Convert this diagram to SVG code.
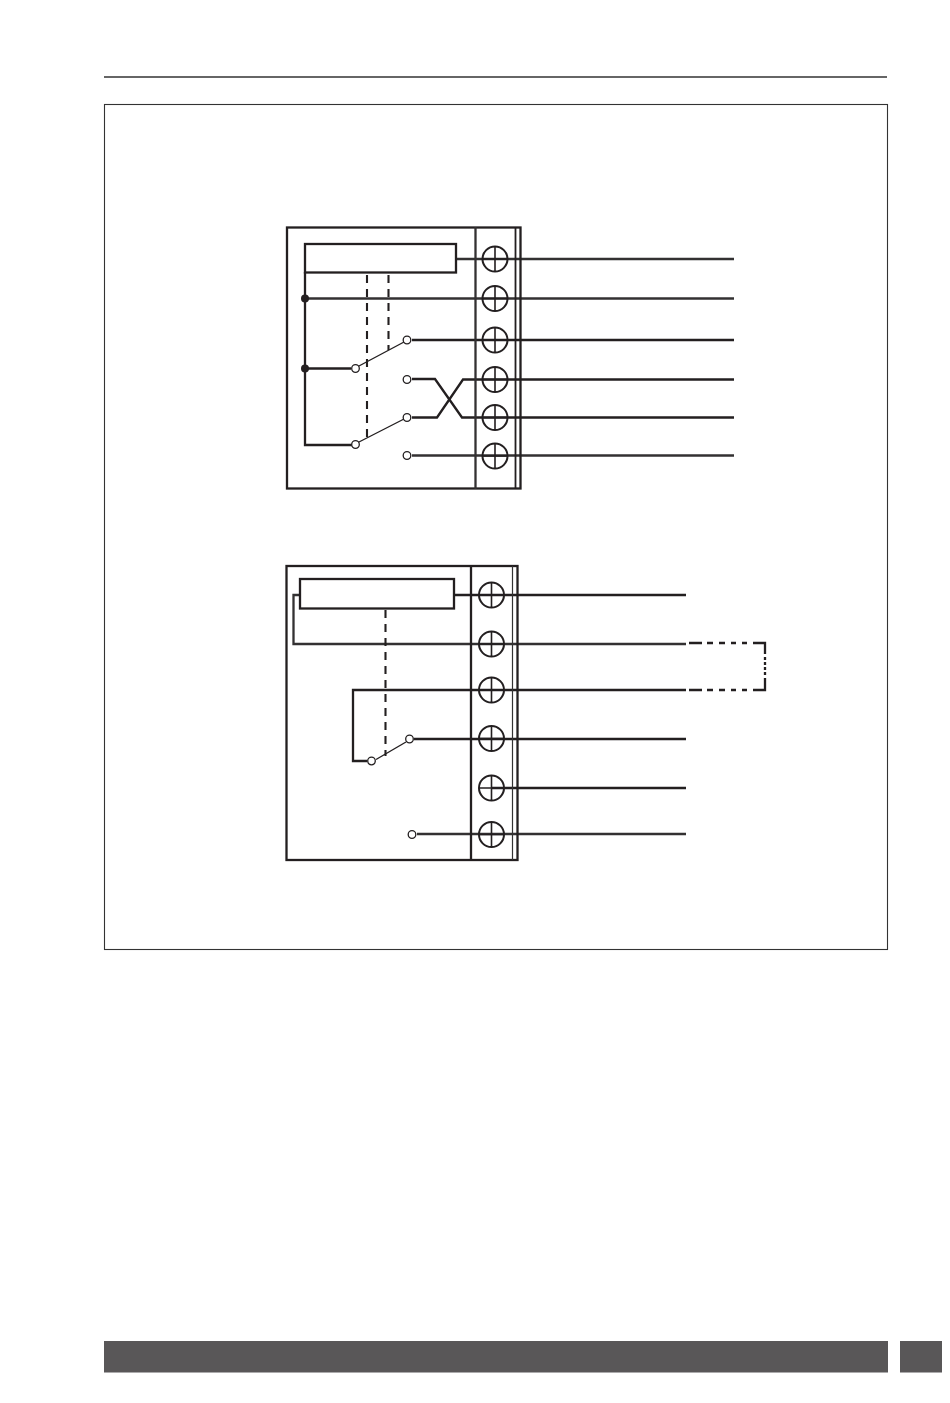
<svg xmlns="http://www.w3.org/2000/svg" width="950" height="1403" viewBox="0 0 950 1403">
<defs>
<style>
.l{fill:none;stroke:#231f20;stroke-width:2.300}
.t{fill:none;stroke:#231f20;stroke-width:1.400}
.g{fill:none;stroke:#333132;stroke-width:2.300}
.d{fill:none;stroke:#231f20;stroke-width:2.100;stroke-dasharray:8 6}
.o{fill:#fff;stroke:#231f20;stroke-width:1.300}
.s{fill:#231f20}
.b{fill:#595758}
</style>
<g id="screw"><circle r="12.500" fill="none" stroke="#231f20" stroke-width="2"/><path d="M-12.500 0H12.500M0-12.500V12.500" fill="none" stroke="#231f20" stroke-width="1.600"/></g>
</defs>
<rect width="950" height="1403" fill="#fff"/>
<g id="page">
<path d="M104 77H887" stroke="#333" stroke-width="1.500" fill="none"/>
<rect x="104.500" y="104.500" width="783" height="845" fill="none" stroke="#333" stroke-width="1.100"/>
<rect class="b" x="104" y="1341" width="784" height="31.500"/>
<rect class="b" x="900" y="1341" width="42" height="31.500"/>
</g>
<g id="connectors">
<path class="g" d="M456 259H734"/>
<path class="g" d="M305 298.500H734"/>
<path class="l" d="M412 340H734"/>
<path class="l" d="M305 272V445H352"/>
<path class="l" d="M305 368.500H351"/>
<path class="l" d="M412 379H435L462 417.500H734"/>
<path class="l" d="M412 417.500H437L463 379.500H734"/>
<path class="g" d="M412 455.500H734"/>
<path class="t" d="M358 366.500L404 342M358 442.500L404 419"/>
<path class="d" d="M367 275V438" stroke-dasharray="7.500 6"/>
<path class="d" d="M388.500 275V350" stroke-dasharray="7 5.500"/>
<path class="l" d="M454 595H686"/>
<path class="g" d="M300 595H293.500V644H686"/>
<path class="l" d="M686 690H353V761H367"/>
<path class="l" d="M414 739H686"/>
<path class="l" d="M492 788H686"/>
<path class="g" d="M417 834H686"/>
<path class="t" d="M376 759.500L406 742"/>
<path class="d" d="M385.500 610V756" stroke-dasharray="8 7"/>
<path class="l" d="M689 643H702M707 643H713M719 643H725M731 643H736M742 643H747M753 643H765V654M765 657V660M765 662V665M765 667V670M765 672V675M765 678V690H753M747 690H742M736 690H731M725 690H719M713 690H707M702 690H689"/>
</g>
<g id="relay-1">
<rect class="l" x="287" y="227.500" width="233.500" height="261"/>
<path class="g" d="M475.500 227V489"/>
<path d="M515.500 227V489" fill="none" stroke="#231f20" stroke-width="1.800"/>
<rect class="l" x="305" y="244" width="151" height="28.500" fill="#fff"/>
</g>
<g id="terminals-1">
<use href="#screw" x="495" y="259"/><use href="#screw" x="495" y="298.500"/><use href="#screw" x="495" y="340"/><use href="#screw" x="495" y="379.500"/><use href="#screw" x="495" y="417.500"/><use href="#screw" x="495" y="456"/>
</g>
<g id="contacts-1">
<circle class="s" cx="305" cy="298.500" r="4"/><circle class="s" cx="305" cy="368.500" r="4"/>
<circle class="o" cx="355.500" cy="368.500" r="3.800"/><circle class="o" cx="407" cy="340" r="3.800"/><circle class="o" cx="407" cy="379.500" r="3.800"/><circle class="o" cx="407" cy="417.500" r="3.800"/><circle class="o" cx="355.500" cy="444.500" r="3.800"/><circle class="o" cx="407" cy="455.500" r="3.800"/>
</g>
<g id="relay-2">
<rect class="l" x="286.500" y="566" width="231" height="294"/>
<path class="l" d="M471 566V860"/>
<path d="M512.500 566V860" fill="none" stroke="#333" stroke-width="1.200"/>
<rect class="l" x="300" y="579" width="154" height="29.500" fill="#fff"/>
</g>
<g id="terminals-2">
<use href="#screw" x="491.500" y="595"/><use href="#screw" x="491.500" y="644"/><use href="#screw" x="491.500" y="690"/><use href="#screw" x="491.500" y="738.500"/><use href="#screw" x="491.500" y="788"/><use href="#screw" x="491.500" y="834.500"/>
</g>
<g id="contacts-2">
<circle class="o" cx="371.500" cy="761" r="3.800"/><circle class="o" cx="409.500" cy="739" r="3.800"/><circle class="o" cx="412" cy="834.500" r="3.800"/>
</g>
</svg>
